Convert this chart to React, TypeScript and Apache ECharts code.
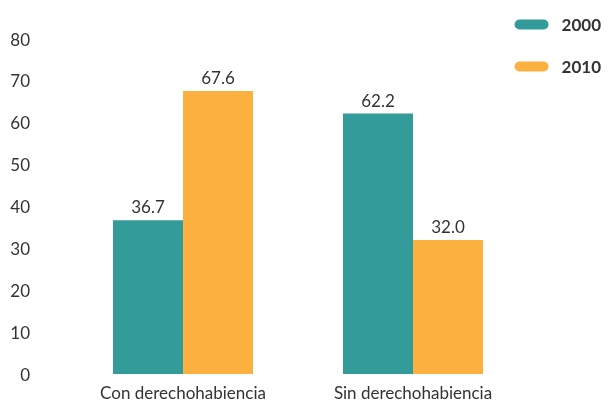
import React, { useEffect, useRef } from "react";
import * as echarts from "echarts";

const categories = ["Con derechohabiencia", "Sin derechohabiencia"];
const series2000 = [36.7, 62.2];
const series2010 = [67.6, 32.0];
const seriesNames = ["2000", "2010"];
const yTicks = { min: 0, max: 80, interval: 10 };

const FONT = "Lato, 'Open Sans', sans-serif";
const pill = "path://M5,0 H29 A5,5 0 0 1 29,10 H5 A5,5 0 0 1 5,0 Z";

export default function App() {
  const ref = useRef<HTMLDivElement>(null);
  useEffect(() => {
    if (!ref.current) return;
    const chart = echarts.init(ref.current, null, { renderer: "svg" });
    const label = {
      show: true,
      position: "top",
      distance: 5,
      color: "#333",
      fontSize: 17,
      fontFamily: FONT,
      formatter: (p: any) => Number(p.value).toFixed(1),
    };
    chart.setOption({
      animation: false,
      textStyle: { fontFamily: FONT },
      grid: { left: 68, right: 80, top: 39, bottom: 28, containLabel: false },
      legend: {
        orient: "vertical",
        right: 2,
        top: 11,
        itemWidth: 34,
        itemHeight: 10,
        itemGap: 25,
        icon: pill,
        textStyle: { fontSize: 17, fontWeight: "bold", color: "#333", fontFamily: FONT, padding: [0, 0, 0, 8] },
        data: seriesNames,
      },
      xAxis: {
        type: "category",
        data: categories,
        axisLine: { show: false },
        axisTick: { show: false },
        axisLabel: { color: "#333", fontSize: 17, margin: 10, fontFamily: FONT },
      },
      yAxis: {
        type: "value",
        min: yTicks.min,
        max: yTicks.max,
        interval: yTicks.interval,
        splitLine: { show: false },
        axisLine: { show: false },
        axisTick: { show: false },
        axisLabel: { color: "#333", fontSize: 17, margin: 38, fontFamily: FONT },
      },
      series: [
        {
          name: seriesNames[0],
          type: "bar",
          data: series2000,
          barWidth: 70,
          barGap: "0%",
          itemStyle: { color: "#339b9a" },
          label,
        },
        {
          name: seriesNames[1],
          type: "bar",
          data: series2010,
          barWidth: 70,
          barGap: "0%",
          itemStyle: { color: "#fbb040" },
          label,
        },
      ],
    });
    return () => chart.dispose();
  }, []);
  return <div ref={ref} style={{ width: 608, height: 402, position: "fixed", left: 0, top: 0 }} />;
}
